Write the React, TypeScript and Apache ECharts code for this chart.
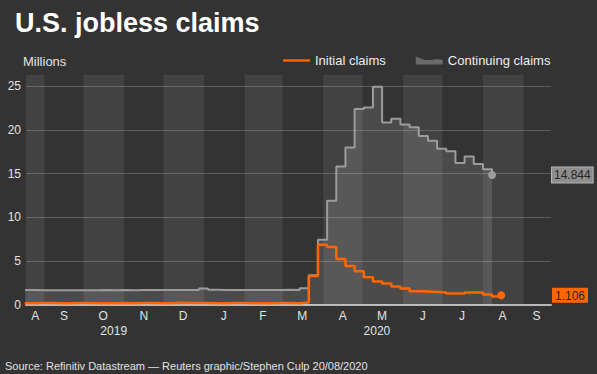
import React, { useEffect, useRef } from 'react';
import * as echarts from 'echarts';

// ---- data ----
const firstWeekEnding = '2019-08-17';
const axisStart = '2019-08-18';
const axisEnd = '2020-09-22';

// Initial claims (millions), weekly, week ending 2019-08-17 ... 2020-08-15
const initialClaims = [
  0.211, 0.217, 0.219, 0.206, 0.210, 0.215, 0.220, 0.210, 0.214, 0.213,
  0.218, 0.211, 0.225, 0.227, 0.213, 0.203, 0.252, 0.235, 0.224, 0.220,
  0.212, 0.207, 0.223, 0.216, 0.201, 0.205, 0.211, 0.219, 0.217, 0.211,
  0.282, 3.307, 6.867, 6.615, 5.237, 4.442, 3.867, 3.176, 2.687, 2.446,
  2.126, 1.897, 1.566, 1.540, 1.482, 1.413, 1.310, 1.307, 1.422, 1.435,
  1.191, 0.971, 1.106,
];

// Continuing claims (millions), weekly, week ending 2019-08-17 ... 2020-08-08
const continuingClaims = [
  1.70, 1.69, 1.68, 1.69, 1.67, 1.68, 1.69, 1.69, 1.70, 1.69,
  1.70, 1.69, 1.70, 1.70, 1.71, 1.70, 1.70, 1.72, 1.72, 1.88,
  1.73, 1.72, 1.72, 1.71, 1.72, 1.71, 1.72, 1.72, 1.73, 1.71,
  1.90, 3.41, 7.45, 11.91, 15.82, 17.99, 22.38, 22.55, 24.91, 20.84,
  21.27, 20.61, 20.29, 19.29, 18.76, 17.85, 17.55, 16.20, 16.95, 16.09,
  15.49, 14.844,
];

const monthLabels = ['A', 'S', 'O', 'N', 'D', 'J', 'F', 'M', 'A', 'M', 'J', 'J', 'A', 'S'];
const monthLabelDates = [
  '2019-08-25', '2019-09-16', '2019-10-16', '2019-11-16', '2019-12-16', '2020-01-16',
  '2020-02-15', '2020-03-16', '2020-04-16', '2020-05-16', '2020-06-16', '2020-07-16',
  '2020-08-16', '2020-09-11',
];
const yearLabels = ['2019', '2020'];
const yearLabelDates = ['2019-10-24', '2020-05-12'];
const shadedMonths = [
  ['2019-08-01', '2019-09-01'],
  ['2019-10-01', '2019-11-01'],
  ['2019-12-01', '2020-01-01'],
  ['2020-02-01', '2020-03-01'],
  ['2020-04-01', '2020-05-01'],
  ['2020-06-01', '2020-07-01'],
  ['2020-08-01', '2020-09-01'],
];
const yMax = 25;
const yInterval = 5;

// ---- helpers ----
const ts = (s: string) => new Date(s + 'T00:00:00').getTime();
const DAY = 86400000;
const weekTs = (i: number) => ts(firstWeekEnding) + i * 7 * DAY;

const FONT = '"Liberation Sans", Arial, Helvetica, sans-serif';
const ORANGE = '#ff6600';
const GREY_LINE = '#9c9c9c';

export default function App() {
  const ref = useRef<HTMLDivElement>(null);

  useEffect(() => {
    if (!ref.current) return;
    const chart = echarts.init(ref.current, null, { renderer: 'svg' });
    const xMin = ts(axisStart);
    const xMax = ts(axisEnd);

    const monthVals = monthLabelDates.map(ts);
    const yearVals = yearLabelDates.map(ts);
    const nearest = (vals: number[], labels: string[], v: number) => {
      for (let i = 0; i < vals.length; i++) {
        if (Math.abs(vals[i] - v) < DAY / 2) return labels[i];
      }
      return '';
    };

    const initData = initialClaims.map((v, i) => [weekTs(i), v]);
    const contData = continuingClaims.map((v, i) => [weekTs(i), v]);
    const initLast = initData[initData.length - 1];
    const contLast = contData[contData.length - 1];

    const option: any = {
      animation: false,
      backgroundColor: '#333333',
      textStyle: { fontFamily: FONT },
      title: {
        text: 'U.S. jobless claims',
        left: 10,
        top: 4,
        textStyle: { color: '#ffffff', fontSize: 27, fontWeight: 'bold', fontFamily: FONT },
      },
      graphic: [
        {
          type: 'text',
          left: 23,
          top: 55,
          style: { text: 'Millions', fill: '#e2e2e2', font: `13px ${FONT}` },
        },
        {
          type: 'text',
          left: 5,
          top: 360,
          style: {
            text: 'Source: Refinitiv Datastream — Reuters graphic/Stephen Culp 20/08/2020',
            fill: '#e2e2e2',
            font: `11px ${FONT}`,
          },
        },
      ],
      legend: {
        left: 283,
        top: 54,
        padding: 0,
        itemWidth: 27,
        itemHeight: 8,
        itemGap: 30,
        textStyle: { color: '#eeeeee', fontSize: 13, fontFamily: FONT },
        data: [
          {
            name: 'Initial claims',
            icon: 'path://M0,0 L0,0 M0,2.8 L27,2.8 L27,5.2 L0,5.2 Z M27,8 L27,8',
            itemStyle: { color: ORANGE },
          },
          {
            name: 'Continuing claims',
            icon: 'path://M0,0 L9,3.5 L15,3.5 L21,2.5 L27,3.5 L27,8 L0,8 Z',
            itemStyle: { color: '#6a6a6a' },
          },
        ],
      },
      grid: [
        { left: 26, right: 46, top: 86, bottom: 69 },
        { left: 26, right: 46, top: 75, bottom: 69 },
      ],
      xAxis: [
        {
          type: 'value',
          gridIndex: 0,
          min: xMin,
          max: xMax,
          axisLine: { show: true, lineStyle: { color: '#b8b8b8', width: 2 } },
          axisTick: { show: false },
          splitLine: { show: false },
          axisLabel: {
            customValues: monthVals,
            formatter: (v: number) => nearest(monthVals, monthLabels, v),
            color: '#e2e2e2',
            fontSize: 12,
            margin: 5,
            hideOverlap: false,
          },
        },
        {
          type: 'value',
          gridIndex: 0,
          position: 'bottom',
          offset: 15,
          min: xMin,
          max: xMax,
          axisLine: { show: false },
          axisTick: { show: false },
          splitLine: { show: false },
          axisLabel: {
            customValues: yearVals,
            formatter: (v: number) => nearest(yearVals, yearLabels, v),
            color: '#e2e2e2',
            fontSize: 12,
            margin: 5,
            hideOverlap: false,
          },
        },
        {
          type: 'value',
          gridIndex: 1,
          min: xMin,
          max: xMax,
          show: false,
        },
      ],
      yAxis: [
        {
          type: 'value',
          gridIndex: 0,
          min: 0,
          max: yMax,
          interval: yInterval,
          axisLine: { show: false },
          axisTick: { show: false },
          axisLabel: { color: '#e2e2e2', fontSize: 12, margin: 5 },
          splitLine: { show: true, lineStyle: { color: 'rgba(255,255,255,0.2)', width: 1 } },
        },
        {
          type: 'value',
          gridIndex: 0,
          position: 'right',
          min: 0,
          max: yMax,
          axisLine: { show: false },
          axisTick: { show: false },
          splitLine: { show: false },
          axisLabel: {
            customValues: [contLast[1], initLast[1]],
            margin: 1,
            formatter: (v: number) =>
              Math.abs(v - (contLast[1] as number)) < 1e-6
                ? `{g|${v.toFixed(3)}}`
                : `{o|${v.toFixed(3)}}`,
            rich: {
              g: {
                backgroundColor: '#8e8e8e',
                borderColor: '#b4b4b4',
                borderWidth: 1,
                color: '#262626',
                fontSize: 12,
                fontFamily: FONT,
                padding: [2, 2, 1, 2],
              },
              o: {
                backgroundColor: ORANGE,
                color: '#262626',
                fontSize: 12,
                fontFamily: FONT,
                padding: [2, 3, 1, 3],
              },
            },
          },
        },
        {
          type: 'value',
          gridIndex: 1,
          min: 0,
          max: 1,
          show: false,
        },
      ],
      series: [
        {
          name: 'bands',
          type: 'line',
          xAxisIndex: 2,
          yAxisIndex: 2,
          data: [],
          silent: true,
          z: 0,
          markArea: {
            silent: true,
            z: -1,
            itemStyle: { color: '#424242' },
            data: shadedMonths.map(([a, b]) => [
              { xAxis: Math.max(ts(a), xMin) },
              { xAxis: Math.min(ts(b), xMax) },
            ]),
          },
        },
        {
          name: 'Continuing claims',
          type: 'line',
          xAxisIndex: 0,
          yAxisIndex: 0,
          step: 'end',
          symbol: 'none',
          data: contData,
          z: 3,
          lineStyle: { color: GREY_LINE, width: 2 },
          itemStyle: { color: GREY_LINE },
          areaStyle: { color: 'rgba(255,255,255,0.17)', origin: 'start' },
          markPoint: {
            symbol: 'circle',
            symbolSize: 8,
            silent: true,
            itemStyle: { color: GREY_LINE },
            label: { show: false },
            data: [{ coord: contLast }],
          },
        },
        {
          name: 'Initial claims',
          type: 'line',
          xAxisIndex: 0,
          yAxisIndex: 0,
          step: 'end',
          symbol: 'none',
          data: initData,
          z: 4,
          lineStyle: { color: ORANGE, width: 2.5 },
          itemStyle: { color: ORANGE },
          markPoint: {
            symbol: 'circle',
            symbolSize: 8,
            silent: true,
            itemStyle: { color: ORANGE },
            label: { show: false },
            data: [{ coord: initLast }],
          },
        },
      ],
    };

    chart.setOption(option);
    return () => chart.dispose();
  }, []);

  return (
    <div
      ref={ref}
      style={{ position: 'absolute', left: 0, top: 0, width: 597, height: 374, background: '#333333' }}
    />
  );
}
